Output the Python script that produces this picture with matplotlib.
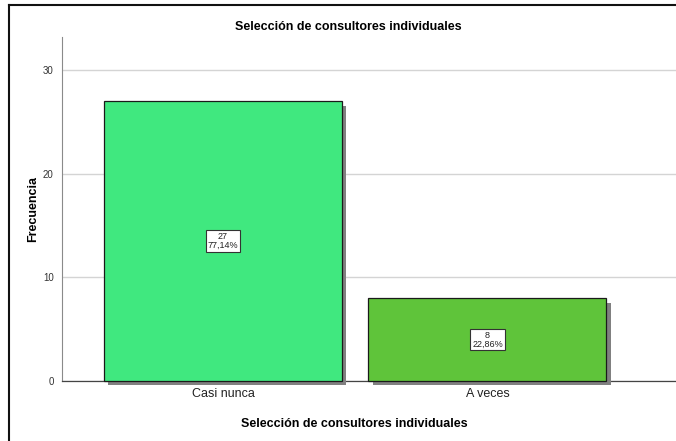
import matplotlib
matplotlib.use("Agg")
import matplotlib.pyplot as plt
import matplotlib.patheffects as pe
from matplotlib.lines import Line2D

plt.rcParams['font.family'] = ['Liberation Sans', 'DejaVu Sans']

# data
categorias = ["Casi nunca", "A veces"]
frecuencias = [27, 8]
porcentajes = ["77,14%", "22,86%"]
colores = ["#40e87f", "#5fc43a"]
y_ticks = [0, 10, 20, 30]

fig = plt.figure(figsize=(6.76, 4.41), dpi=100)
ax = fig.add_axes([62 / 676, 60 / 441, 1 - 62 / 676, (381 - 37) / 441])

x = list(range(len(categorias)))
bars = ax.bar(x, frecuencias, width=0.9, color=colores, edgecolor="#1a1a1a",
              linewidth=0.9, zorder=3)
for b in bars:
    b.set_clip_on(False)
    b.set_path_effects([pe.SimplePatchShadow(offset=(3.2, -3.2), shadow_rgbFace="#808080",
                                             alpha=1.0),
                        pe.Normal()])

for xi, f, p in zip(x, frecuencias, porcentajes):
    ax.text(xi, f / 2, f"{f}\n{p}", ha="center", va="center", fontsize=6.5,
            linespacing=0.95, color="#222222", zorder=5,
            bbox=dict(boxstyle="square,pad=0.2", fc="white", ec="#333333", lw=0.8))

ax.set_xlim(-0.609, 1.713)
ax.set_ylim(0, 33.2)
ax.set_yticks(y_ticks)
ax.set_xticks(x)
ax.set_xticklabels(categorias, fontsize=9, color="#222222")
ax.tick_params(axis="y", length=0, labelsize=7, labelcolor="#333333", pad=6)
ax.tick_params(axis="x", length=0, pad=5)
ax.grid(axis="y", color="#d4d4d4", linewidth=1.0, zorder=0)

for s in ["top", "right"]:
    ax.spines[s].set_visible(False)
ax.spines["left"].set_color("#8a8a8a")
ax.spines["left"].set_linewidth(0.8)
ax.spines["bottom"].set_color("#444444")
ax.spines["bottom"].set_linewidth(0.9)

ax.set_ylabel("Frecuencia", fontsize=9, fontweight="bold")
ax.yaxis.set_label_coords(-(62 - 33) / 614, 0.5)
ax.set_xlabel("Selección de consultores individuales", fontsize=9, fontweight="bold")
ax.xaxis.set_label_coords((354 - 62) / 614, -(424 - 381) / 344)
ax.xaxis.label.set_va("center")
ax.yaxis.label.set_va("center")
fig.text(348.5 / 676, 1 - 27 / 441, "Selección de consultores individuales",
         ha="center", va="center", fontsize=9, fontweight="bold")

# outer frame
fig.add_artist(Line2D([9 / 676, 1], [1 - 5 / 441, 1 - 5 / 441], color="#111111",
                      linewidth=1.5, transform=fig.transFigure))
fig.add_artist(Line2D([9 / 676, 9 / 676], [0, 1 - 5 / 441], color="#111111",
                      linewidth=1.5, transform=fig.transFigure))

fig.savefig("out.png", dpi=100)
